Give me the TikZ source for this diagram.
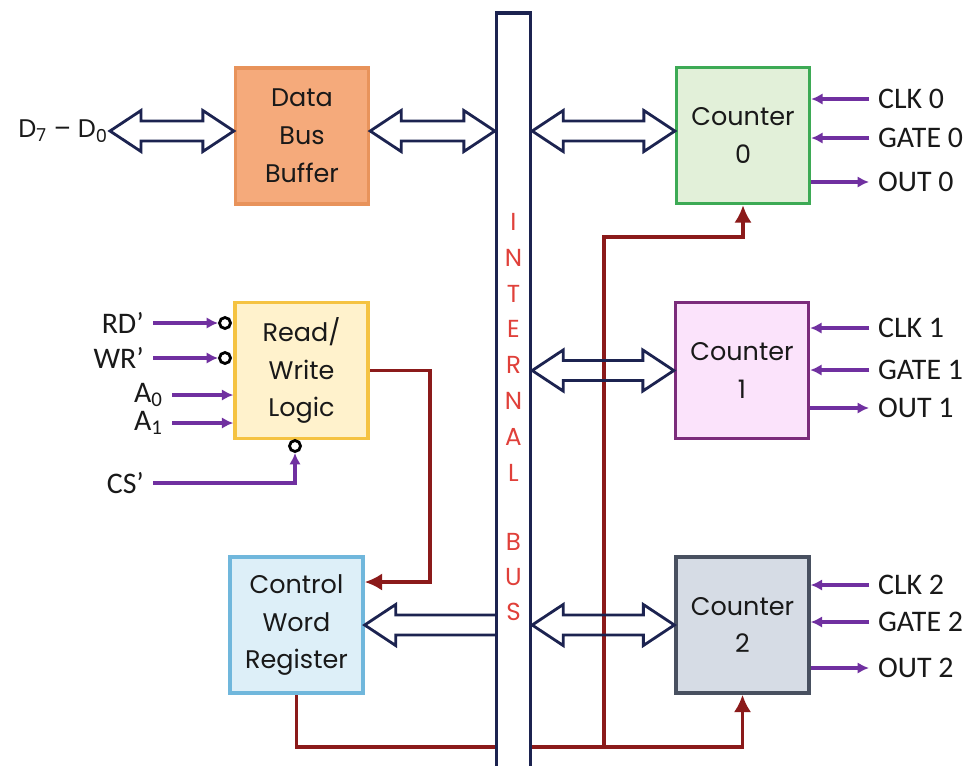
\documentclass[tikz,border=0pt]{standalone}
\usepackage{fontspec}
\setmainfont{Poppins}
\newfontfamily\sigfont{Carlito}
\usetikzlibrary{positioning,calc,arrows.meta,backgrounds}

\definecolor{busnavy}{HTML}{1C2350}
\definecolor{busred}{HTML}{E0403A}
\definecolor{sigpurple}{HTML}{7030A0}
\definecolor{ctrlred}{HTML}{8B1A1A}
\definecolor{dbbfill}{HTML}{F5AA7B}
\definecolor{dbbline}{HTML}{E8935B}
\definecolor{rwfill}{HTML}{FFF2CC}
\definecolor{rwline}{HTML}{F5C342}
\definecolor{cwfill}{HTML}{DDEFF8}
\definecolor{cwline}{HTML}{70B7DC}
\definecolor{czfill}{HTML}{E2F0D9}
\definecolor{czline}{HTML}{3DAA55}
\definecolor{cofill}{HTML}{FBE3FB}
\definecolor{coline}{HTML}{7B2C7B}
\definecolor{ctfill}{HTML}{D6DCE5}
\definecolor{ctline}{HTML}{485060}

% size of the hollow bus arrows
\newcommand{\ahl}{0.62cm}
\newcommand{\ahw}{0.41cm}
\newcommand{\asw}{0.2cm}

% hollow two-headed arrow, #1 left end, #2 right end
\newcommand{\hollowboth}[2]{%
  \draw[busline] let \p1=(#1), \p2=(#2) in
    (\x1,\y1) -- ({\x1+\ahl},{\y1+\ahw}) -- ({\x1+\ahl},{\y1+\asw})
    -- ({\x2-\ahl},{\y1+\asw}) -- ({\x2-\ahl},{\y1+\ahw}) -- (\x2,\y1)
    -- ({\x2-\ahl},{\y1-\ahw}) -- ({\x2-\ahl},{\y1-\asw})
    -- ({\x1+\ahl},{\y1-\asw}) -- ({\x1+\ahl},{\y1-\ahw}) -- cycle;}
% hollow arrow pointing left, #1 tip, #2 tail
\newcommand{\hollowleft}[2]{%
  \draw[busline] let \p1=(#1), \p2=(#2) in
    (\x2,{\y1+\asw}) -- ({\x1+\ahl},{\y1+\asw}) -- ({\x1+\ahl},{\y1+\ahw})
    -- (\x1,\y1) -- ({\x1+\ahl},{\y1-\ahw}) -- ({\x1+\ahl},{\y1-\asw})
    -- (\x2,{\y1-\asw});}

\tikzset{
  blk/.style={draw, rectangle, line width=1.9pt, minimum width=2.66cm,
    minimum height=2.72cm, align=center, text=black!90,
    font=\fontsize{14.5}{21.5}\selectfont},
  busline/.style={draw=busnavy, line width=1.6pt, line join=miter},
  busletter/.style={text=busred, inner sep=0pt, font=\fontsize{14}{15}\selectfont},
  lbl/.style={inner xsep=5pt, inner ysep=1pt, text=black!90,
    font=\sigfont\fontsize{17}{19}\selectfont},
  sig/.style={draw=sigpurple, line width=2pt, -{Latex[length=6.5pt,width=6.5pt]}},
  ctrl/.style={draw=ctrlred, line width=2pt, -{Latex[length=10pt,width=10pt]}},
  bubble/.style={circle, draw=black, line width=1.6pt, fill=white,
    minimum size=0.22cm, inner sep=0pt},
}

\begin{document}
\begin{tikzpicture}[x=0.02cm, y=-0.02cm]
\useasboundingbox (0,0) rectangle (976,765);

% blocks
\node[blk, fill=dbbfill, draw=dbbline] (dbb) at (302,136) {Data\\Bus\\Buffer};
\node[blk, fill=rwfill, draw=rwline] (rwl) at (301.5,370.5) {Read/\\Write\\Logic};
\node[blk, fill=cwfill, draw=cwline] (cwr) at (296.5,625) {Control\\Word\\Register};
\node[blk, fill=czfill, draw=czline] (c0) at (743,135.5) {Counter\\0};
\node[blk, fill=cofill, draw=coline] (c1) at (742,370.5) {Counter\\1};
\node[blk, fill=ctfill, draw=ctline] (c2) at (742.5,625) {Counter\\2};

% internal bus
\node[draw=busnavy, fill=white, line width=1.9pt, minimum width=0.68cm,
  minimum height=15.2cm, inner sep=0pt] (bus) at (513.5,393) {};
\foreach \ch [count=\i from 0] in {I,N,T,E,R,N,A,L}
  \node[busletter] (int\i) at (513.5,{222+35.8*\i}) {\ch};
\foreach \ch [count=\i from 0] in {B,U,S}
  \node[busletter] (bs\i) at (513.5,{542+35*\i}) {\ch};

% data lines
\node[anchor=east, inner xsep=1pt, text=black!90, font=\fontsize{14.5}{16}\selectfont]
  (dbus) at (110,131) {D\textsubscript{7} – D\textsubscript{0}};
\hollowboth{dbus.east}{dbb.west |- dbus.east}
\hollowboth{dbb.east |- dbus.east}{bus.west |- dbus.east}
\hollowboth{bus.east |- dbus.east}{c0.west |- dbus.east}
\hollowboth{bus.east |- c1.west}{c1.west}
\hollowboth{bus.east |- c2.west}{c2.west}
\hollowleft{cwr.east}{bus.west |- cwr.east}

% read/write inputs
\node[lbl, anchor=east] (rd) at (153,323) {RD’};
\node[bubble] (rdb) at (225,323) {};
\draw[sig] (rd.east) -- (rdb.west);
\node[lbl, anchor=east] (wr) at (153,358) {WR’};
\node[bubble] (wrb) at (225,358) {};
\draw[sig] (wr.east) -- (wrb.west);
\node[lbl, anchor=east] (a0) at (172,395) {A\textsubscript{0}};
\draw[sig] (a0.east) -- (a0.east -| rwl.west);
\node[lbl, anchor=east] (a1) at (172,423) {A\textsubscript{1}};
\draw[sig] (a1.east) -- (a1.east -| rwl.west);
\node[lbl, anchor=east] (cs) at (153,483) {CS’};
\node[bubble] (csb) at (295,446) {};
\draw[sig] (cs.east) -| (csb.south);

% counter pins
\foreach \k/\yc/\yg/\yo in {0/99/138/182, 1/328/370/408, 2/585/622/668}{
  \node[lbl, anchor=west] (clk\k) at (869,\yc) {CLK \k};
  \node[lbl, anchor=west] (gate\k) at (869,\yg) {GATE \k};
  \node[lbl, anchor=west] (out\k) at (869,\yo) {OUT \k};
  \draw[sig] (clk\k.west) -- (clk\k.west -| c\k.east);
  \draw[sig] (gate\k.west) -- (gate\k.west -| c\k.east);
  \draw[sig] (c\k.east |- out\k.west) -- (out\k.west);
}

% control lines
\begin{scope}[on background layer]
\fill[white] (0,0) rectangle (976,765);
\draw[ctrl] (rwl.east) -- (rwl.east -| 430,0) |- (cwr.east |- 0,582);
\coordinate (split) at (604,747);
\draw[ctrl] (cwr.south) |- (split) -| (c2.south);
\draw[ctrl] (split) -- (604,237) -| (c0.south);
\end{scope}
\end{tikzpicture}
\end{document}
